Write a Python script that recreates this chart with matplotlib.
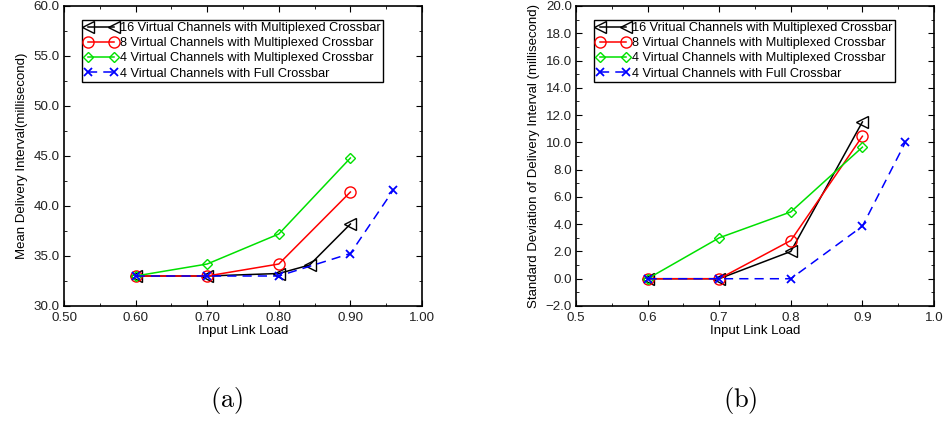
import numpy as np
import matplotlib
matplotlib.use('Agg')
import matplotlib.pyplot as plt
import matplotlib.ticker as mticker

plt.rcParams['font.family'] = ['Liberation Sans', 'DejaVu Sans']
plt.rcParams['mathtext.fontset'] = 'cm'

# ---- data, panel (a): mean delivery interval ----
x_a16 = [0.60, 0.70, 0.80, 0.843, 0.90]
y_a16 = [33.0, 33.0, 33.25, 34.1, 38.2]
x_a8 = [0.60, 0.70, 0.80, 0.90]
y_a8 = [33.0, 33.0, 34.2, 41.4]
x_a4 = [0.60, 0.70, 0.80, 0.90]
y_a4 = [33.0, 34.2, 37.2, 44.8]
x_afull = [0.60, 0.70, 0.80, 0.90, 0.96]
y_afull = [33.0, 33.0, 33.0, 35.25, 41.6]

# ---- data, panel (b): std deviation of delivery interval ----
x_b16 = [0.6, 0.7, 0.8, 0.9]
y_b16 = [0.0, 0.0, 2.0, 11.5]
x_b8 = [0.6, 0.7, 0.8, 0.9]
y_b8 = [0.0, 0.0, 2.8, 10.45]
x_b4 = [0.6, 0.7, 0.8, 0.9]
y_b4 = [0.0, 3.0, 4.9, 9.65]
x_bfull = [0.6, 0.7, 0.8, 0.9, 0.96]
y_bfull = [0.0, 0.0, 0.0, 3.85, 10.0]

labels_a = ['16 Virtual Channels with Multiplexed Crossbar',
            '8 Virtual Channels with Multiplexed Crossbar',
            '4 Virtual Channels with Multiplexed Crossbar',
            '4 Virtual Channels with Full Crossbar']
labels_b = ['16 Vritual Channels with Multiplexed Crossbar',
            '8 Virtual Channels with Multiplexed Crossbar',
            '4 Virtual Channels with Multiplexed Crossbar',
            '4 Virtual Channels with Full Crossbar']

styles = [dict(color='black', marker='<', ls='-', mfc='none', ms=8),
          dict(color='red', marker='o', ls='-', mfc='none', ms=8),
          dict(color='#00e000', marker='D', ls='-', mfc='none', ms=5.5),
          dict(color='blue', marker='x', ls=(0, (6, 4)), ms=6, mew=1.3)]

W, H = 943, 421
fig = plt.figure(figsize=(W / 100, H / 100), dpi=100)
ax_a = fig.add_axes([64 / W, (H - 306) / H, 358 / W, 300 / H])
ax_b = fig.add_axes([576 / W, (H - 306) / H, 358 / W, 300 / H])

def minus_fmt(fmt):
    return mticker.FuncFormatter(lambda v, p: (fmt % v).replace('-', '\u2212'))

def style_axes(ax, xfmt, yfmt, ymaj, ymin_):
    ax.set_xlim(0.5, 1.0)
    ax.xaxis.set_major_locator(mticker.MultipleLocator(0.1))
    ax.xaxis.set_minor_locator(mticker.MultipleLocator(0.05))
    ax.yaxis.set_major_locator(mticker.MultipleLocator(ymaj))
    ax.yaxis.set_minor_locator(mticker.MultipleLocator(ymin_))
    ax.xaxis.set_major_formatter(minus_fmt(xfmt))
    ax.yaxis.set_major_formatter(minus_fmt(yfmt))
    ax.tick_params(which='both', direction='in', top=True, right=True,
                   labelsize=9.6, colors='black', labelcolor='#222222')
    ax.tick_params(axis='x', which='major', length=4, pad=4)
    ax.tick_params(axis='y', which='major', length=4, pad=3)
    ax.tick_params(which='minor', length=2)
    for s in ax.spines.values():
        s.set_linewidth(1.2)
    ax.set_xlabel('Input Link Load', fontsize=9.5, labelpad=1)

series_a = [(x_a16, y_a16), (x_a8, y_a8), (x_a4, y_a4), (x_afull, y_afull)]
series_b = [(x_b16, y_b16), (x_b8, y_b8), (x_b4, y_b4), (x_bfull, y_bfull)]

for ax, series, labels in [(ax_a, series_a, labels_a), (ax_b, series_b, labels_b)]:
    for (xs, ys), st, lab in zip(series, styles, labels):
        ax.plot(xs, ys, lw=1.1, label=lab, **st)
    leg = ax.legend(loc='upper left', bbox_to_anchor=(0.05, 0.955),
                    borderaxespad=0, numpoints=2, handlelength=2.6,
                    handletextpad=0.15, labelspacing=0.25, borderpad=0.2,
                    fontsize=9.2, fancybox=False, framealpha=1,
                    edgecolor='black')
    leg.get_frame().set_linewidth(1.0)

style_axes(ax_a, '%.2f', '%.1f', 5, 2.5)
ax_a.set_ylim(30, 60)
ax_a.set_ylabel('Mean Delivery Interval(millisecond)', fontsize=9.5, labelpad=4)

style_axes(ax_b, '%.1f', '%.1f', 2, 1)
ax_b.set_ylim(-2, 20)
ax_b.set_ylabel('Standard Deviation of Delivery Interval (millisecond)',
                fontsize=9.5, labelpad=4)

fig.text(227 / W, 1 - 400 / H, r'$\mathrm{(a)}$', fontsize=19,
         ha='center', va='center')
fig.text(740 / W, 1 - 400 / H, r'$\mathrm{(b)}$', fontsize=19,
         ha='center', va='center')

fig.savefig('out.png', dpi=100)
